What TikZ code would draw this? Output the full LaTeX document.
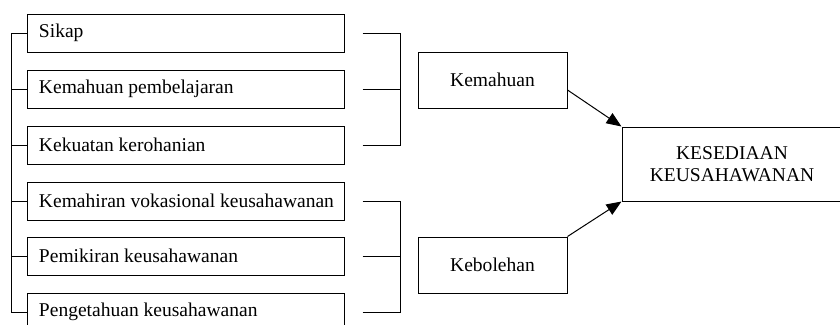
\documentclass[tikz,border=0pt]{standalone}
\usepackage{fontspec}
\setmainfont{Liberation Serif}
\usetikzlibrary{arrows.meta}
\newcommand\lefttext[1]{\makebox[294bp][l]{#1}}
\begin{document}
\begin{tikzpicture}[x=1bp,y=-1bp,line width=1bp,
  every node/.style={font=\fontsize{19.6pt}{22pt}\selectfont},
  lbox/.style={draw,rectangle,inner xsep=11bp,inner ysep=0pt,minimum height=38bp},
  mbox/.style={draw,rectangle,minimum width=149bp,minimum height=56bp,inner sep=0pt,align=center},
  bigbox/.style={draw,rectangle,minimum width=220bp,minimum height=74bp,inner sep=0pt,align=center},
  arr/.style={-{Triangle[length=15bp,width=12bp]}}]
\useasboundingbox (0,0) rectangle (840,324);
\fill[white] (0,0) rectangle (840,324);
% left boxes
\node[lbox] (b1) at (186,33) {\lefttext{Sikap}};
\node[lbox] (b2) at (186,89) {\lefttext{Kemahuan pembelajaran}};
\node[lbox] (b3) at (186,145) {\lefttext{Kekuatan kerohanian}};
\node[lbox] (b4) at (186,201) {\lefttext{Kemahiran vokasional keusahawanan}};
\node[lbox] (b5) at (186,256) {\lefttext{Pemikiran keusahawanan}};
\node[lbox] (b6) at (186,312) {\lefttext{Pengetahuan keusahawanan}};
% left bracket
\coordinate (lt) at (11,33);
\coordinate (lb) at (11,312);
\draw (lt) -- (lb);
\foreach \i in {1,...,6} \draw (b\i.west) -- (b\i.west -| lt);
% right brackets
\foreach \i in {1,...,6} \draw ([xshift=18bp]b\i.east) -- ([xshift=56bp]b\i.east);
\draw ([xshift=56bp]b1.east) -- ([xshift=56bp]b3.east);
\draw ([xshift=56bp]b4.east) -- ([xshift=56bp]b6.east);
% middle boxes
\node[mbox] (k1) at (492.5,80) {Kemahuan};
\node[mbox] (k2) at (492.5,265) {Kebolehan};
% big box
\node[bigbox] (k3) at (732,164) {KESEDIAAN\\KEUSAHAWANAN};
% arrows
\draw[arr] ([yshift=-10bp]k1.east) -- (k3.north west);
\draw[arr] (k2.north east) -- (k3.south west);
\end{tikzpicture}
\end{document}
